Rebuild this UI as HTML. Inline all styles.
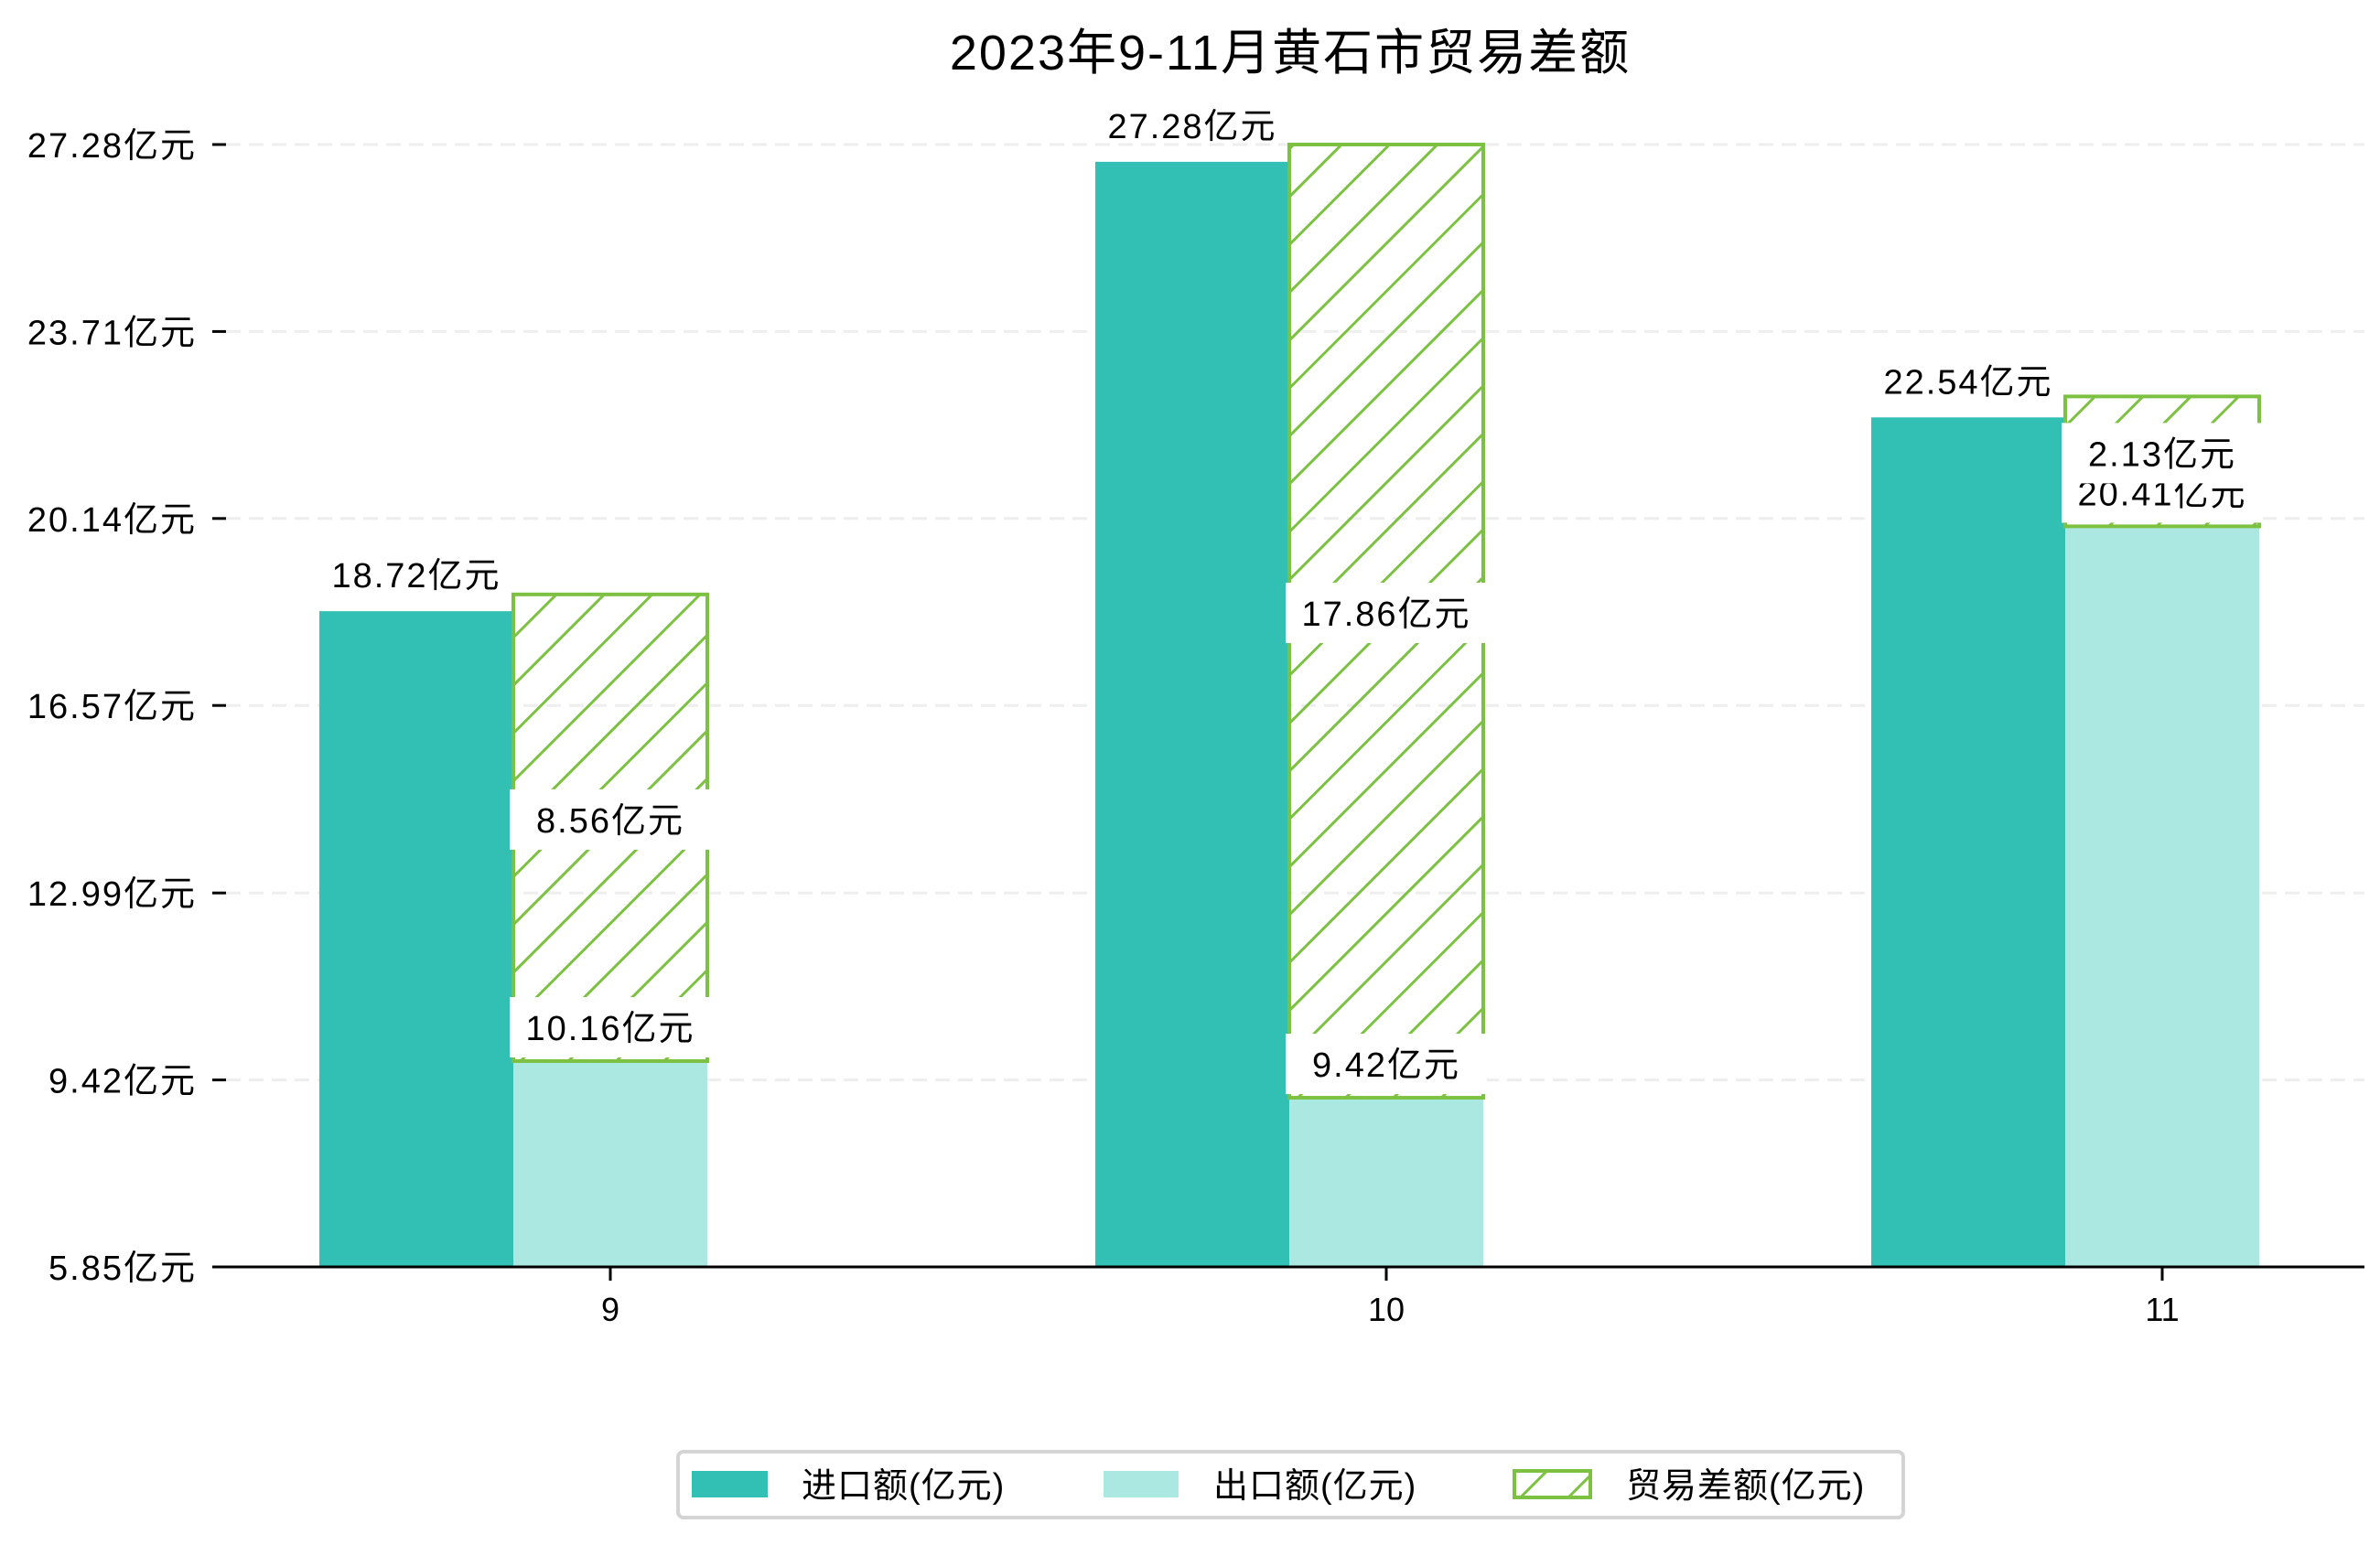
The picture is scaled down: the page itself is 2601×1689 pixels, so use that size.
<!DOCTYPE html>
<html><head><meta charset="utf-8"><style>
html,body{margin:0;padding:0;background:#fff;}
svg{display:block;font-family:"Liberation Sans","Noto Sans CJK SC",sans-serif;}
</style></head><body>
<svg id="chart" width="2601" height="1689" viewBox="0 0 2601 1689" xmlns="http://www.w3.org/2000/svg">
<defs>
<pattern id="hatch" patternUnits="userSpaceOnUse" width="37" height="37" patternTransform="rotate(45)">
<line x1="0" y1="0" x2="0" y2="37" stroke="#7cc142" stroke-width="6"/>
</pattern>
</defs>
<text x="1410" y="76" text-anchor="middle" font-size="54" letter-spacing="2">2023年9-11月黄石市贸易差额</text>
<g id="grid"></g>
<g id="bars"></g>
<g id="labels"></g>
<g id="axes"></g>
<g>
<rect x="741" y="1587" width="1339" height="72" rx="6" fill="#fff" stroke="#d4d4d4" stroke-width="4"/>
<rect x="756" y="1608" width="83" height="29" fill="#32c0b4"/>
<text x="876" y="1637" font-size="38" letter-spacing="1">进口额(亿元)</text>
<rect x="1206" y="1608" width="82" height="29" fill="#abe8e2"/>
<text x="1326" y="1637" font-size="38" letter-spacing="1">出口额(亿元)</text>
<rect x="1655" y="1608" width="83" height="29" fill="url(#hatch)" stroke="#7cc142" stroke-width="4"/>
<text x="1777" y="1637" font-size="38" letter-spacing="1">贸易差额(亿元)</text>
</g>
</svg>
<script>
const categories = ['9','10','11'];
const importBar = [18.37, 26.95, 22.07];
const exportBar = [9.78, 9.08, 19.99];
const balanceBar = [8.91, 18.2, 2.48];
const importLabels = ['18.72亿元','27.28亿元','22.54亿元'];
const exportLabels = ['10.16亿元','9.42亿元','20.41亿元'];
const balanceLabels = ['8.56亿元','17.86亿元','2.13亿元'];
const yTicks = [5.85, 9.42, 12.99, 16.57, 20.14, 23.71, 27.28];
const yTickLabels = ['5.85亿元','9.42亿元','12.99亿元','16.57亿元','20.14亿元','23.71亿元','27.28亿元'];

const NS='http://www.w3.org/2000/svg';
const y0=1385, y1=158, v0=5.85, v1=27.28;
function yS(v){return y0-(v-v0)*(y0-y1)/(v1-v0);}
function xC(i){return 667+i*848;}
const BW=212;
function mk(tag,parent,attrs){const e=document.createElementNS(NS,tag);for(const k in attrs)e.setAttribute(k,attrs[k]);parent.appendChild(e);return e;}
const grid=document.getElementById('grid'),bars=document.getElementById('bars'),labels=document.getElementById('labels'),axes=document.getElementById('axes');

yTicks.forEach((t,i)=>{
  const y=yS(t);
  if(i>0){const g=mk('line',grid,{x1:247,x2:2584,y1:y,y2:y,stroke:'#eeeeee','stroke-width':3,'stroke-dasharray':'16 9'});
  
  }
  const tk=mk('line',axes,{x1:232,x2:247,y1:y,y2:y,stroke:'#000','stroke-width':3});
  
  
  const tl=mk('text',axes,{x:215,y:y+14,'text-anchor':'end','font-size':38,'letter-spacing':2});
  tl.textContent=yTickLabels[i];
  
  
});

function labelBox(cx,cy,txt,name){
  const r=mk('rect',labels,{x:cx-BW/2-4,y:cy-33,width:BW+8,height:66,fill:'#fff'});
  
  
  const t=mk('text',labels,{x:cx,y:cy+14,'text-anchor':'middle','font-size':38,'letter-spacing':2});
  t.textContent=txt;
  
  
}

categories.forEach((c,i)=>{
  const cx=xC(i);
  const ib=mk('rect',bars,{x:cx-BW/2-BW,y:yS(importBar[i]),width:BW,height:y0-yS(importBar[i]),fill:'#32c0b4'});
  
  
  const eb=mk('rect',bars,{x:cx-BW/2,y:yS(exportBar[i]),width:BW,height:y0-yS(exportBar[i]),fill:'#abe8e2'});
  
  
  const top=exportBar[i]+balanceBar[i];
  const bb=mk('rect',bars,{x:cx-BW/2,y:yS(top),width:BW,height:yS(exportBar[i])-yS(top),fill:'url(#hatch)',stroke:'#7cc142','stroke-width':4});
  
  
  const il=mk('text',labels,{x:cx-BW,y:yS(importBar[i])-26,'text-anchor':'middle','font-size':38,'letter-spacing':2});
  il.textContent=importLabels[i];
  
  
  labelBox(cx,yS(exportBar[i])-37,exportLabels[i],'export-label-'+c);
  labelBox(cx,(yS(top)+yS(exportBar[i]))/2-9,balanceLabels[i],'balance-label-'+c);
  const xt=mk('line',axes,{x1:cx,x2:cx,y1:y0,y2:y0+15,stroke:'#000','stroke-width':3});
  
  
  const xl=mk('text',axes,{x:cx,y:1444,'text-anchor':'middle','font-size':36});
  xl.textContent=c;
  
  
});
const ax=mk('line',axes,{x1:235,x2:2584,y1:y0,y2:y0,stroke:'#000','stroke-width':3});


</script>
</body></html>
